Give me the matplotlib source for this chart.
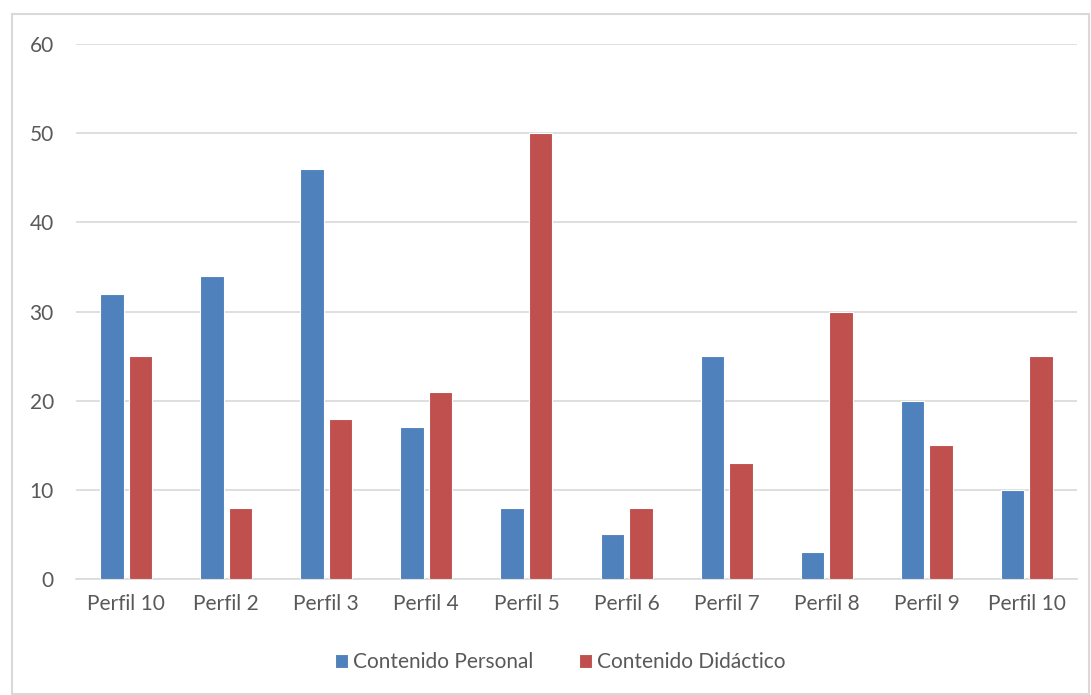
import matplotlib.pyplot as plt
import numpy as np
from matplotlib.patches import Rectangle

categories = ["Perfil 10", "Perfil 2", "Perfil 3", "Perfil 4", "Perfil 5",
              "Perfil 6", "Perfil 7", "Perfil 8", "Perfil 9", "Perfil 10"]
personal = [32, 34, 46, 17, 8, 5, 25, 3, 20, 10]
didactico = [25, 8, 18, 21, 50, 8, 13, 30, 15, 25]

BLUE = "#4F81BD"
RED = "#C0504D"
TEXT = "#595959"
GRID = "#D9D9D9"

plt.rcParams["font.family"] = ["Lato", "DejaVu Sans"]

fig = plt.figure(figsize=(10.91, 6.95), dpi=100)
ax = fig.add_axes([76 / 1091, 1 - 579 / 695, 1001 / 1091, 535 / 695])

x = np.arange(len(categories))
width = 0.235
ax.bar(x - 0.142, personal, width, color=BLUE, edgecolor="white", linewidth=0.8,
       label="Contenido Personal", zorder=3)
ax.bar(x + 0.142, didactico, width, color=RED, edgecolor="white", linewidth=0.8,
       label="Contenido Didáctico", zorder=3)

ax.set_xlim(-0.5, len(categories) - 0.5)
ax.set_ylim(0, 60)
ax.set_yticks(range(0, 61, 10))
ax.set_xticks(x, categories)
ax.yaxis.grid(True, color=GRID, linewidth=1.2, zorder=0)
ax.set_axisbelow(True)
for side in ["top", "right", "left"]:
    ax.spines[side].set_visible(False)
ax.spines["bottom"].set_color(GRID)
ax.spines["bottom"].set_linewidth(1.2)
ax.tick_params(axis="both", length=0, colors=TEXT, labelsize=15)
ax.tick_params(axis="y", pad=16)
ax.tick_params(axis="x", pad=11)

fig.legend(loc="center", bbox_to_anchor=(560 / 1091, 1 - 662 / 695), ncol=2,
           frameon=False, fontsize=15, labelcolor=TEXT, handlelength=0.65,
           handleheight=0.65, handletextpad=0.2, columnspacing=2.2)

fig.patches.append(Rectangle((12 / 1091, 1 / 695), 1077 / 1091, 680 / 695,
                             transform=fig.transFigure, fill=False,
                             edgecolor=GRID, linewidth=1.5))

fig.savefig("out.png", dpi=100)
